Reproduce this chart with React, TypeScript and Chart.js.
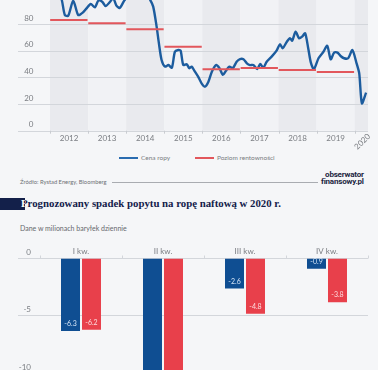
import React, { useEffect, useRef } from "react";
import { Chart, registerables } from "chart.js";

Chart.register(...registerables);

// ---------- Top chart: oil price vs. breakeven ----------
const priceYears = [
  2012.0, 2012.1, 2012.21, 2012.31, 2012.39, 2012.48, 2012.61, 2012.74, 2012.86, 2012.96,
  2013.07, 2013.18, 2013.27, 2013.37, 2013.46, 2013.58, 2013.66, 2013.74, 2013.83, 2013.95,
  2014.05, 2014.2, 2014.36, 2014.49, 2014.63, 2014.71, 2014.8, 2014.86, 2014.93,
  2015.02, 2015.11, 2015.2, 2015.28, 2015.37, 2015.43, 2015.5, 2015.59, 2015.66, 2015.72,
  2015.79, 2015.89, 2015.98, 2016.07, 2016.16, 2016.25, 2016.36, 2016.45, 2016.54, 2016.62,
  2016.71, 2016.8, 2016.9, 2016.99, 2017.08, 2017.17, 2017.25, 2017.34, 2017.44, 2017.52,
  2017.6, 2017.69, 2017.82, 2017.95, 2018.04, 2018.11, 2018.22, 2018.3, 2018.36, 2018.45,
  2018.54, 2018.62, 2018.7, 2018.78, 2018.85, 2018.93, 2019.05, 2019.18, 2019.28, 2019.37,
  2019.46, 2019.55, 2019.63, 2019.72, 2019.83, 2019.94, 2020.05, 2020.12, 2020.19, 2020.3,
];
const priceValues = [
  100, 104, 105, 98, 86.7, 86.2, 97.5, 86.7, 88.5, 91.7,
  95, 92.5, 97.5, 96.7, 93.5, 96.7, 99.5, 94, 92, 97.5,
  101, 100, 103, 104, 98, 93, 78, 65.5, 53,
  48, 49.2, 47.2, 59.2, 60.5, 60, 49.2, 49.8, 46.8, 48,
  45, 40.5, 35.5, 33, 36.7, 44.2, 49.2, 46.8, 41.8, 45,
  48, 46.8, 51.7, 53.7, 53.5, 50.5, 49.2, 49.2, 46.2, 50,
  47.2, 51.7, 55.5, 60, 64.8, 61.8, 66.7, 69.3, 67.5, 74.2,
  69.3, 70.5, 73, 61.8, 51, 46, 54.3, 59.2, 63.7, 53.5,
  58.5, 58.5, 56, 54.3, 54.3, 60.5, 50.5, 43, 20.5, 28.5,
];
const breakevenYears = [2012, 2013, 2014, 2015, 2016, 2017, 2018, 2019];
const breakevenValues = [83, 80.5, 76, 63, 46, 47, 45.5, 44];
const yearLabels = ["2012", "2013", "2014", "2015", "2016", "2017", "2018", "2019", "2020"];
const priceTicks = [0, 20, 40, 60, 80];

// ---------- Bottom chart: demand drop ----------
const quarters = ["I kw.", "II kw.", "III kw.", "IV kw."];
const demandBlue = [-6.3, -16.4, -2.6, -0.9];
const demandRed = [-6.2, -15.8, -4.8, -3.8];
const demandTicks = [0, -5, -10];

const BG = "#f5f6f8";
const GRID = "#d3d6db";
const TXT = "#7a7d82";
const FONT = "Lato, 'Noto Sans', sans-serif";

function PriceChart() {
  const ref = useRef<HTMLCanvasElement | null>(null);
  useEffect(() => {
    if (!ref.current) return;
    const bePoints: any[] = [];
    breakevenYears.forEach((y, i) => {
      bePoints.push({ x: y + 0.005, y: breakevenValues[i] });
      bePoints.push({ x: y + 0.985, y: breakevenValues[i] });
      bePoints.push({ x: y + 0.995, y: null });
    });
    const bands = {
      id: "bands",
      beforeDraw(chart: any) {
        const { ctx, chartArea } = chart;
        const xs = chart.scales.x;
        const ys = chart.scales.y;
        const zero = ys.getPixelForValue(0);
        ctx.save();
        yearLabels.forEach((lab, i) => {
          const yr = 2012 + i;
          const x0 = xs.getPixelForValue(yr);
          const x1 = Math.min(xs.getPixelForValue(yr + 1), chartArea.right);
          ctx.fillStyle = i % 2 === 0 ? "#e9eaee" : "#f1f2f5";
          ctx.fillRect(x0, chartArea.top, x1 - x0, zero - chartArea.top);
        });
        ctx.strokeStyle = GRID;
        ctx.lineWidth = 1;
        priceTicks.forEach((t) => {
          const y = Math.round(ys.getPixelForValue(t)) + 0.5;
          ctx.beginPath();
          ctx.moveTo(chartArea.left, y);
          ctx.lineTo(chartArea.right, y);
          ctx.stroke();
        });
        ctx.fillStyle = TXT;
        ctx.font = "8px " + FONT;
        ctx.textAlign = "right";
        ctx.textBaseline = "middle";
        priceTicks.forEach((t) => {
          ctx.fillText(String(t), chartArea.left + 15.5, ys.getPixelForValue(t) - 6);
        });
        ctx.strokeStyle = "#c9ccd1";
        for (let i = 0; i <= yearLabels.length - 1; i++) {
          const x = Math.round(xs.getPixelForValue(2012 + i)) + 0.5;
          ctx.beginPath();
          ctx.moveTo(x, zero);
          ctx.lineTo(x, zero + 3);
          ctx.stroke();
        }
        ctx.fillStyle = TXT;
        ctx.textAlign = "center";
        yearLabels.forEach((lab, i) => {
          const yr = 2012 + i;
          const x0 = xs.getPixelForValue(yr);
          const x1 = Math.min(xs.getPixelForValue(yr + 1), chartArea.right);
          if (i < yearLabels.length - 1) {
            ctx.fillText(lab, (x0 + x1) / 2, zero + 8);
          } else {
            ctx.save();
            ctx.translate((x0 + x1) / 2 + 1, zero + 11);
            ctx.rotate(-Math.PI / 4);
            ctx.fillText(lab, 0, 0);
            ctx.restore();
          }
        });
        ctx.restore();
      },
    };
    const chart = new Chart(ref.current, {
      type: "line",
      data: {
        datasets: [
          {
            label: "Poziom rentowności",
            data: bePoints,
            borderColor: "#e2575c",
            borderWidth: 2,
            pointRadius: 0,
            spanGaps: false,
            tension: 0,
          },
          {
            label: "Cena ropy",
            data: priceYears.map((x, i) => ({ x, y: priceValues[i] })),
            borderColor: "#1c5c9e",
            borderWidth: 2.4,
            pointRadius: 0,
            tension: 0.25,
            borderJoinStyle: "round",
          },
        ],
      },
      options: {
        responsive: false,
        animation: false,
        layout: { padding: { left: 18, right: 10, top: 10.6, bottom: 19.3 } },
        plugins: { legend: { display: false }, tooltip: { enabled: false } },
        scales: {
          x: { type: "linear", min: 2011.16, max: 2020.35, display: false },
          y: { min: 0, max: 120, display: false },
        },
      },
      plugins: [bands],
    } as any);
    return () => chart.destroy();
  }, []);
  return (
    <canvas
      ref={ref}
      width={378}
      height={190}
      style={{ position: "absolute", left: 0, top: -40, width: 378, height: 190 }}
    />
  );
}

function DemandChart() {
  const ref = useRef<HTMLCanvasElement | null>(null);
  useEffect(() => {
    if (!ref.current) return;
    const deco = {
      id: "deco",
      beforeDraw(chart: any) {
        const { ctx, chartArea } = chart;
        const ys = chart.scales.y;
        const xs = chart.scales.x;
        ctx.save();
        ctx.strokeStyle = GRID;
        ctx.lineWidth = 1;
        demandTicks.forEach((t) => {
          const y = Math.round(ys.getPixelForValue(t)) - 0.5;
          ctx.beginPath();
          ctx.moveTo(18, y);
          ctx.lineTo(chartArea.right, y);
          ctx.stroke();
        });
        const zero = Math.round(ys.getPixelForValue(0)) - 0.5;
        const n = quarters.length;
        const step = (chartArea.right - chartArea.left) / n;
        for (let i = 0; i <= n; i++) {
          const x = Math.round(chartArea.left + i * step) + 0.5;
          ctx.beginPath();
          ctx.moveTo(x, zero - 3);
          ctx.lineTo(x, zero);
          ctx.stroke();
        }
        ctx.fillStyle = TXT;
        ctx.font = "8px " + FONT;
        ctx.textAlign = "right";
        ctx.textBaseline = "middle";
        demandTicks.forEach((t) => {
          ctx.fillText(String(t), 31, ys.getPixelForValue(t) - 6.5);
        });
        ctx.textAlign = "center";
        quarters.forEach((q, i) => {
          ctx.fillText(q, xs.getPixelForValue(i), ys.getPixelForValue(0) - 7);
        });
        ctx.restore();
      },
      afterDatasetsDraw(chart: any) {
        const { ctx } = chart;
        ctx.save();
        ctx.font = "7px " + FONT;
        ctx.textAlign = "center";
        ctx.textBaseline = "middle";
        chart.data.datasets.forEach((ds: any, di: number) => {
          const meta = chart.getDatasetMeta(di);
          meta.data.forEach((el: any, i: number) => {
            const v = ds.data[i];
            ctx.fillStyle = di === 0 ? "#d3e3f5" : "#fcdadd";
            ctx.fillText(v.toFixed(1), el.x, el.y - 7);
          });
        });
        ctx.restore();
      },
    };
    const chart = new Chart(ref.current, {
      type: "bar",
      data: {
        labels: quarters,
        datasets: [
          {
            label: "Prognoza 1",
            data: demandBlue,
            backgroundColor: "#0f4e92",
            categoryPercentage: 0.512,
            barPercentage: 0.905,
          },
          {
            label: "Prognoza 2",
            data: demandRed,
            backgroundColor: "#e8404b",
            categoryPercentage: 0.512,
            barPercentage: 0.905,
          },
        ],
      },
      options: {
        responsive: false,
        animation: false,
        layout: { padding: { left: 40, right: 10, top: 18.5, bottom: 5 } },
        plugins: { legend: { display: false }, tooltip: { enabled: false } },
        scales: {
          x: { display: false },
          y: { min: -11, max: 0, display: false },
        },
      },
      plugins: [deco],
    } as any);
    return () => chart.destroy();
  }, []);
  return (
    <canvas
      ref={ref}
      width={378}
      height={150}
      style={{ position: "absolute", left: 0, top: 240, width: 378, height: 150 }}
    />
  );
}

export default function App() {
  const title = "Prognozowany spadek popytu na ropę naftową w 2020 r.";
  const titleStyle: React.CSSProperties = {
    position: "absolute",
    left: 21,
    top: 196,
    whiteSpace: "nowrap",
    fontFamily: "'Liberation Serif', 'DejaVu Serif', serif",
    fontWeight: 700,
    fontSize: 10.8,
    lineHeight: "14px",
  };
  return (
    <div
      style={{
        position: "absolute",
        left: 0,
        top: 0,
        width: 378,
        height: 370,
        overflow: "hidden",
        background: BG,
        fontFamily: FONT,
      }}
    >
      <PriceChart />
      <div style={{ position: "absolute", left: 119, top: 157, width: 19, height: 2, background: "#2a6cb0" }} />
      <div style={{ position: "absolute", left: 141, top: 153, fontSize: 6.5, lineHeight: "9px", color: TXT, whiteSpace: "nowrap" }}>
        Cena ropy
      </div>
      <div style={{ position: "absolute", left: 195, top: 157, width: 19, height: 2, background: "#e2575c" }} />
      <div style={{ position: "absolute", left: 217, top: 153, fontSize: 6.5, lineHeight: "9px", color: TXT, whiteSpace: "nowrap" }}>
        Poziom rentowności
      </div>
      <div style={{ position: "absolute", left: 20, top: 178, fontSize: 5.8, lineHeight: "8px", color: "#6d7075", whiteSpace: "nowrap" }}>
        Źródło: Rystad Energy, Bloomberg
      </div>
      <div style={{ position: "absolute", left: 112, top: 182, width: 206, height: 1, background: "#a9acb1" }} />
      <div
        style={{
          position: "absolute",
          left: 321,
          top: 172,
          fontFamily: "Roboto, sans-serif",
          fontWeight: 700,
          fontSize: 8,
          lineHeight: "6.8px",
          color: "#1b2540",
          whiteSpace: "nowrap",
          textAlign: "right",
          letterSpacing: -0.2,
        }}
      >
        <div>obserwator</div>
        <div>finansowy.pl</div>
      </div>
      <div style={{ ...titleStyle, color: "#13204a" }}>{title}</div>
      <div
        style={{
          position: "absolute",
          left: 0,
          top: 198,
          width: 25,
          height: 12,
          background: "#13204a",
          overflow: "hidden",
        }}
      >
        <div style={{ ...titleStyle, top: -2, color: "#ffffff" }}>{title}</div>
      </div>
      <div style={{ position: "absolute", left: 20, top: 224, fontSize: 7, lineHeight: "9px", color: "#65686d", whiteSpace: "nowrap" }}>
        Dane w milionach baryłek dziennie
      </div>
      <DemandChart />
    </div>
  );
}
